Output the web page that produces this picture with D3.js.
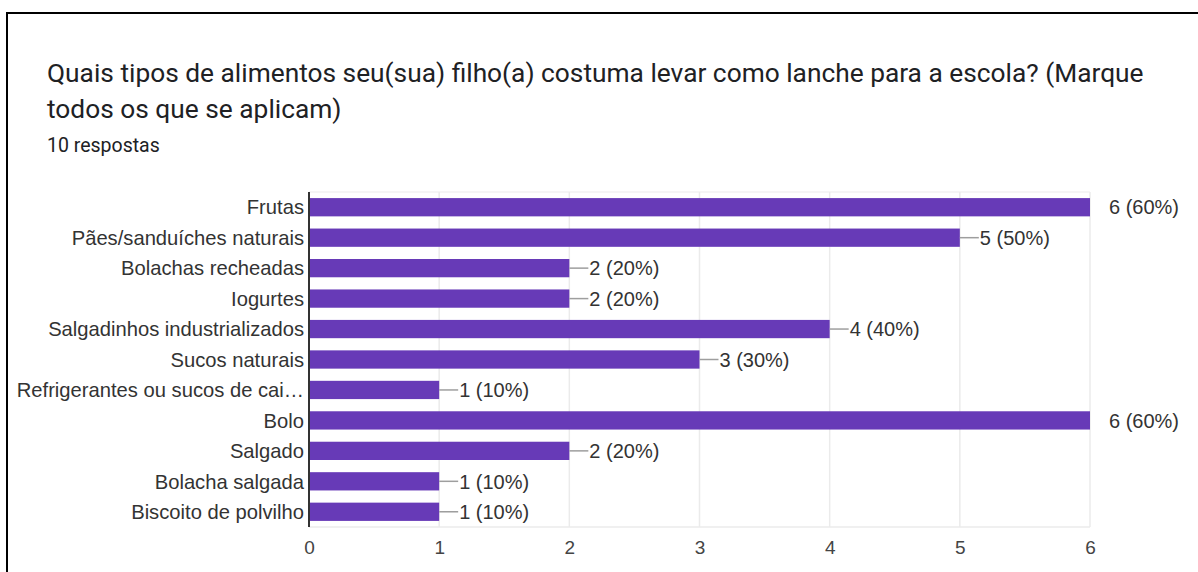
<!DOCTYPE html>
<html>
<head>
<meta charset="utf-8">
<script src="https://cdn.jsdelivr.net/npm/d3@7"></script>
<style>
  body { margin: 0; background: #fff; }
  svg { display: block; }
  .title { font-family: Roboto, "Noto Sans", sans-serif; font-size: 26.3px; fill: #202124; }
  .sub { font-family: Roboto, "Noto Sans", sans-serif; font-size: 19.5px; fill: #202124; }
  .cat { font-family: "Liberation Sans", Arial, sans-serif; font-size: 20.2px; fill: #333; }
  .val { font-family: "Liberation Sans", Arial, sans-serif; font-size: 20px; fill: #333; }
  .tick text { font-family: "Liberation Sans", Arial, sans-serif; font-size: 19px; fill: #444; }
</style>
</head>
<body>
<div id="chart"></div>
<script>
// chart data
var categories = ['Frutas', 'Pães/sanduíches naturais', 'Bolachas recheadas', 'Iogurtes',
    'Salgadinhos industrializados', 'Sucos naturais', 'Refrigerantes ou sucos de cai…',
    'Bolo', 'Salgado', 'Bolacha salgada', 'Biscoito de polvilho'];
var counts = [6, 5, 2, 2, 4, 3, 1, 6, 2, 1, 1];
var percents = ['60%', '50%', '20%', '20%', '40%', '30%', '10%', '60%', '20%', '10%', '10%'];
var xTicks = [0, 1, 2, 3, 4, 5, 6];
var titleLines = ['Quais tipos de alimentos seu(sua) filho(a) costuma levar como lanche para a escola? (Marque',
    'todos os que se aplicam)'];
var subtitle = '10 respostas';

var W = 1198, H = 572;
var margin = { top: 192, right: 108, bottom: 45, left: 309 };
var width = W - margin.left - margin.right;
var height = H - margin.top - margin.bottom;

var rows = categories.map(function(c, i) {
    return { name: c, count: counts[i], pct: percents[i] };
});

var root = d3.select('#chart').append('svg')
    .attr('width', W)
    .attr('height', H);

// frame (top and left edges of the screenshot border)
root.append('line').attr('x1', 7).attr('x2', W).attr('y1', 13).attr('y2', 13)
    .attr('stroke', '#000').attr('stroke-width', 2);
root.append('line').attr('x1', 7).attr('x2', 7).attr('y1', 12).attr('y2', H)
    .attr('stroke', '#000').attr('stroke-width', 2);

// title
root.selectAll('.title')
    .data(titleLines)
    .enter().append('text')
    .attr('class', 'title')
    .attr('x', 47)
    .attr('y', function(d, i) { return 82 + i * 36; })
    .text(function(d) { return d; });
root.append('text')
    .attr('class', 'sub')
    .attr('x', 47)
    .attr('y', 152)
    .text(subtitle);

var svg = root.append('g')
    .attr('transform', 'translate(' + margin.left + ',' + margin.top + ')');

var x = d3.scaleLinear().domain([0, 6]).range([0, width]);
var y = d3.scaleBand().domain(categories).range([0, height]).paddingInner(0.4).paddingOuter(0.2);

// grid
svg.selectAll('.grid')
    .data(xTicks.slice(1))
    .enter().append('line')
    .attr('class', 'grid')
    .attr('x1', function(d) { return x(d); })
    .attr('x2', function(d) { return x(d); })
    .attr('y1', 0)
    .attr('y2', height)
    .attr('stroke', '#ebebeb')
    .attr('stroke-width', 1.5);
svg.append('line').attr('x1', 0).attr('x2', width).attr('y1', 0).attr('y2', 0)
    .attr('stroke', '#ebebeb');
svg.append('line').attr('x1', 0).attr('x2', width).attr('y1', height).attr('y2', height)
    .attr('stroke', '#ebebeb').attr('stroke-width', 1.5);

// x axis
var xAxis = d3.axisBottom(x).tickValues(xTicks).tickFormat(d3.format('d')).tickSize(0).tickPadding(14);
var gx = svg.append('g')
    .attr('class', 'axis x-axis')
    .attr('transform', 'translate(0,' + height + ')')
    .call(xAxis);
gx.select('.domain').remove();

// bars
svg.selectAll('.bar')
    .data(rows)
    .enter().append('rect')
    .attr('class', 'bar')
    .attr('x', 0)
    .attr('y', function(d) { return y(d.name); })
    .attr('width', function(d) { return x(d.count); })
    .attr('height', y.bandwidth())
    .attr('fill', '#673ab7');

// leader lines for values inside the plot
var maxVal = d3.max(counts);
svg.selectAll('.lead')
    .data(rows.filter(function(d) { return d.count < maxVal; }))
    .enter().append('line')
    .attr('class', 'lead')
    .attr('x1', function(d) { return x(d.count); })
    .attr('x2', function(d) { return x(d.count) + 19; })
    .attr('y1', function(d) { return y(d.name) + y.bandwidth() / 2; })
    .attr('y2', function(d) { return y(d.name) + y.bandwidth() / 2; })
    .attr('stroke', '#9e9e9e')
    .attr('stroke-width', 1.5);

// value labels
svg.selectAll('.val')
    .data(rows)
    .enter().append('text')
    .attr('class', 'val')
    .attr('x', function(d) { return d.count < maxVal ? x(d.count) + 20 : x(d.count) + 19; })
    .attr('y', function(d) { return y(d.name) + y.bandwidth() / 2; })
    .attr('dy', '0.36em')
    .text(function(d) { return d.count + ' (' + d.pct + ')'; });

// category labels
svg.selectAll('.cat')
    .data(rows)
    .enter().append('text')
    .attr('class', 'cat')
    .attr('x', -5)
    .attr('y', function(d) { return y(d.name) + y.bandwidth() / 2; })
    .attr('dy', '0.36em')
    .attr('text-anchor', 'end')
    .text(function(d) { return d.name; });

// y axis line
svg.append('line')
    .attr('x1', 0).attr('x2', 0)
    .attr('y1', 0).attr('y2', height)
    .attr('stroke', '#333')
    .attr('stroke-width', 2);
</script>
</body>
</html>
